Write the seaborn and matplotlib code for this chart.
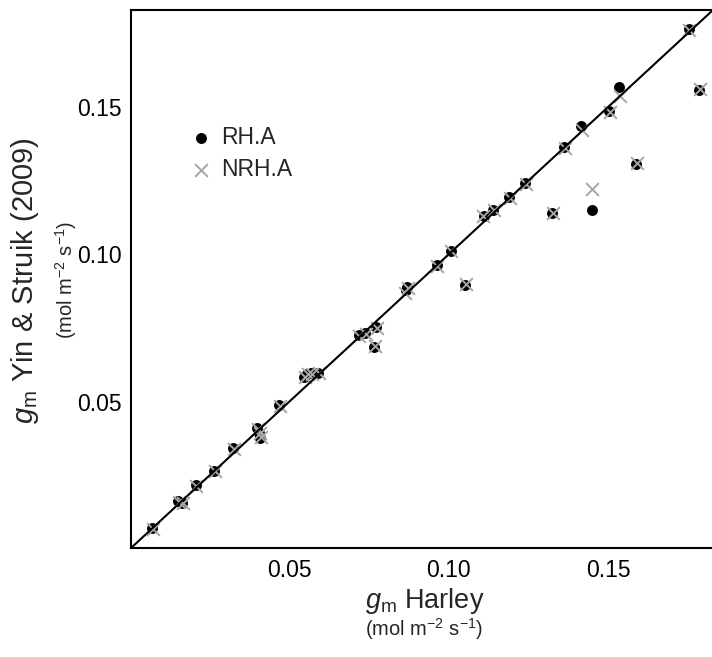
import matplotlib
matplotlib.use("Agg")
import matplotlib.pyplot as plt
import seaborn as sns
import pandas as pd

# ---- data ----
rh_x = [0.0070, 0.0152, 0.0165, 0.0207, 0.0264, 0.0325, 0.0400, 0.0406, 0.0410,
        0.0469, 0.0547, 0.0556, 0.0570, 0.0590, 0.0718, 0.0738, 0.0773, 0.0767,
        0.0866, 0.0871, 0.0963, 0.1007, 0.1052, 0.1110, 0.1139, 0.1190, 0.1240,
        0.1324, 0.1363, 0.1415, 0.1449, 0.1504, 0.1533, 0.1588, 0.1753, 0.1786]
rh_y = [0.0072, 0.0165, 0.0158, 0.0217, 0.0266, 0.0342, 0.0410, 0.0395, 0.0378,
        0.0489, 0.0585, 0.0595, 0.0597, 0.0597, 0.0725, 0.0732, 0.0753, 0.0687,
        0.0879, 0.0891, 0.0964, 0.1013, 0.0896, 0.1131, 0.1151, 0.1194, 0.1242,
        0.1140, 0.1364, 0.1437, 0.1151, 0.1485, 0.1568, 0.1307, 0.1763, 0.1559]
nrh_x = [0.0072, 0.0156, 0.0167, 0.0209, 0.0266, 0.0327, 0.0402, 0.0408, 0.0412,
         0.0471, 0.0549, 0.0558, 0.0572, 0.0592, 0.0720, 0.0740, 0.0775, 0.0769,
         0.0864, 0.0873, 0.0965, 0.1009, 0.1054, 0.1108, 0.1141, 0.1192, 0.1242,
         0.1326, 0.1365, 0.1418, 0.1451, 0.1506, 0.1536, 0.1590, 0.1755, 0.1788]
nrh_y = [0.0070, 0.0160, 0.0156, 0.0215, 0.0264, 0.0340, 0.0408, 0.0393, 0.0380,
         0.0487, 0.0583, 0.0593, 0.0595, 0.0596, 0.0723, 0.0730, 0.0751, 0.0689,
         0.0870, 0.0885, 0.0962, 0.1011, 0.0898, 0.1129, 0.1149, 0.1192, 0.1240,
         0.1142, 0.1362, 0.1423, 0.1222, 0.1483, 0.1536, 0.1309, 0.1761, 0.1561]
series_names = ["RH.A", "NRH.A"]
x_ticks = [0.05, 0.10, 0.15]
y_ticks = [0.05, 0.10, 0.15]
x_tick_labels = ["0.05", "0.10", "0.15"]
y_tick_labels = ["0.05", "0.10", "0.15"]
lims = (0.0004, 0.1829)

sns.set_theme(style="white")
plt.rcParams["font.family"] = ["Liberation Sans", "DejaVu Sans"]
plt.rcParams["mathtext.fontset"] = "custom"
plt.rcParams["mathtext.rm"] = "Liberation Sans"
plt.rcParams["mathtext.it"] = "Liberation Sans:italic"
plt.rcParams["mathtext.bf"] = "Liberation Sans:bold"

W, H = 712, 657
fig = plt.figure(figsize=(W / 100, H / 100), dpi=100)
ax = fig.add_axes([131 / W, (H - 548) / H, (713 - 131) / W, (548 - 10) / H])

df_rh = pd.DataFrame({"x": rh_x, "y": rh_y})
df_nrh = pd.DataFrame({"x": nrh_x, "y": nrh_y})

sns.scatterplot(data=df_rh, x="x", y="y", ax=ax, marker="o", color="black",
                s=62, linewidth=0, label=series_names[0], legend=False, zorder=2)
sns.scatterplot(data=df_nrh, x="x", y="y", ax=ax, marker="x", color="#a6a6a6",
                s=85, linewidth=1.4, label=series_names[1], legend=False, zorder=3)

ax.plot(lims, lims, color="black", lw=1.5, zorder=4)

ax.set_xlim(lims)
ax.set_ylim(lims)
ax.set_xticks(x_ticks)
ax.set_xticklabels(x_tick_labels)
ax.set_yticks(y_ticks)
ax.set_yticklabels(y_tick_labels)
ax.tick_params(axis="both", direction="in", length=10, width=1.1,
               labelsize=16.5, colors="black")
ax.tick_params(axis="x", pad=8)
ax.tick_params(axis="y", pad=7)
ax.set_xlabel("")
ax.set_ylabel("")
for sp in ax.spines.values():
    sp.set_linewidth(1.5)
    sp.set_color("black")

leg = ax.legend(loc="upper left", bbox_to_anchor=(189.2 / W, (H - 126.5) / H),
                bbox_transform=fig.transFigure, frameon=False, fontsize=16.5,
                handlelength=1.0, handletextpad=0.4, labelspacing=0.375,
                borderpad=0, borderaxespad=0)

# axis labels
fig.text(424.6 / W, (H - 608) / H, r"$g_{\mathrm{m}}$ Harley", fontsize=19.5,
         ha="center", va="baseline")
fig.text(424 / W, (H - 636) / H, r"(mol m$^{-2}$ s$^{-1}$)", fontsize=14.5,
         ha="center", va="baseline")
fig.text(33 / W, (H - 281) / H, r"$g_{\mathrm{m}}$ Yin & Struik (2009)", fontsize=21,
         ha="center", va="baseline", rotation=90, rotation_mode="anchor")
fig.text(73 / W, (H - 280) / H, r"(mol m$^{-2}$ s$^{-1}$)", fontsize=14.5,
         ha="center", va="baseline", rotation=90, rotation_mode="anchor")

fig.savefig("out.png", dpi=100)
